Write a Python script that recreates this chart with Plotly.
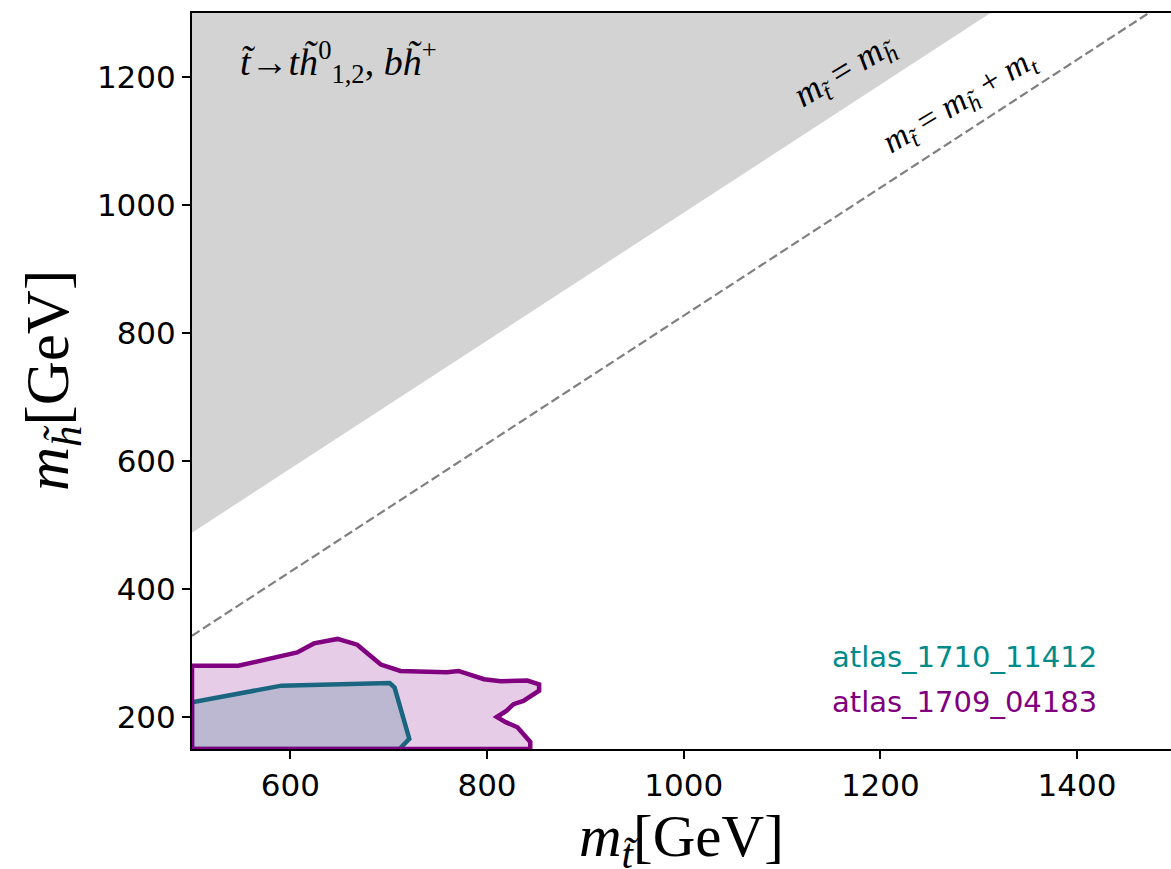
import plotly.graph_objects as go

# ---- data ----
x_range = [500, 1495.6]
y_range = [150, 1300]

# kinematic boundary lines  m_h = m_t - offset
mt_line = [500, 1500]
gray_offset = 12      # shaded region boundary (m_t = m_h)
top_mass = 173        # dashed line (m_t = m_h + m_t)

# ATLAS 1709_04183 excluded contour (purple)
p_mt = [500, 547, 607, 624, 648, 668, 681, 692, 712, 759, 771, 797, 814, 841, 853,
        853, 837, 827, 820, 810, 819, 831, 844, 844, 500, 500]
p_mh = [280, 280, 301, 315, 322, 313, 296, 282, 272, 270, 272, 259, 256, 257, 251,
        241, 225, 220, 210, 200, 192, 184, 161, 150, 150, 280]

# ATLAS 1710_11412 excluded contour (teal)
t_mt = [500, 591, 701, 706, 721, 711, 500, 500]
t_mh = [223, 249, 253, 246, 166, 150, 150, 223]

legend_names = ["atlas_1710_11412", "atlas_1709_04183"]
legend_colors = ["#008b8b", "#800080"]

fig = go.Figure()

# gray forbidden region above m_h = m_t
g_lo = [m - gray_offset for m in mt_line]
fig.add_trace(go.Scatter(
    x=[mt_line[0], mt_line[1], mt_line[0], mt_line[0]],
    y=[g_lo[0], g_lo[1], 1500, g_lo[0]],
    fill="toself", fillcolor="#d3d3d3", mode="none", hoverinfo="skip", showlegend=False))

# dashed line m_t = m_h + m_top
fig.add_trace(go.Scatter(
    x=mt_line, y=[m - top_mass for m in mt_line], mode="lines",
    line=dict(color="#808080", width=2.2, dash="9px,4px"), showlegend=False))

# teal contour
fig.add_trace(go.Scatter(
    x=t_mt, y=t_mh, mode="lines", fill="toself",
    fillcolor="rgba(0,128,128,0.2)", line=dict(color="#008080", width=4.5),
    showlegend=False))
# purple contour
fig.add_trace(go.Scatter(
    x=p_mt, y=p_mh, mode="lines", fill="toself",
    fillcolor="rgba(128,0,128,0.2)", line=dict(color="#800080", width=4.5),
    showlegend=False))

serif = "Liberation Serif, DejaVu Serif, serif"
sans = "DejaVu Sans, sans-serif"

# pixel -> data helpers for placing text
def px2x(px):
    return 500 + (px - 192) / 0.9833

def py2y(py):
    return 400 + (589.3 - py) / 0.64

ann = []
for i, (nm, c) in enumerate(zip(legend_names, legend_colors)):
    ann.append(dict(x=px2x(1099), y=py2y([657, 702][i]), xref="x", yref="y", text=nm,
                    showarrow=False, xanchor="right", yanchor="middle",
                    font=dict(family=sans, size=29, color=c)))

ann.append(dict(x=px2x(238), y=py2y(62), xref="x", yref="y", xanchor="left", yanchor="middle",
                text="<i>t̃</i>→<i>th̃</i><sup>0</sup><sub>1,2</sub>, <i>bh̃</i><sup>+</sup>",
                showarrow=False, font=dict(family=serif, size=38, color="black")))
ann.append(dict(x=px2x(845), y=py2y(72), xref="x", yref="y", textangle=-31,
                text="<i>m</i><sub><i>t̃</i></sub> = <i>m</i><sub><i>h̃</i></sub>",
                showarrow=False, font=dict(family=serif, size=36, color="black")))
ann.append(dict(x=px2x(960), y=py2y(102), xref="x", yref="y", textangle=-31,
                text="<i>m</i><sub><i>t̃</i></sub> = <i>m</i><sub><i>h̃</i></sub> + <i>m</i><sub><i>t</i></sub>",
                showarrow=False, font=dict(family=serif, size=34, color="black")))
# axis titles
ann.append(dict(x=0.5, y=0, xref="paper", yref="paper", yshift=-91, yanchor="middle",
                text="<i>m</i><sub><i>t̃</i></sub>[GeV]", showarrow=False,
                font=dict(family=serif, size=59, color="black")))
ann.append(dict(x=0, y=0.5, xref="paper", yref="paper", xshift=-140, xanchor="center",
                textangle=-90, text="<i>m</i><sub><i>h̃</i></sub>[GeV]", showarrow=False,
                font=dict(family=serif, size=61, color="black")))

fig.update_layout(
    width=1171, height=869,
    margin=dict(l=192, r=0, t=13, b=120),
    plot_bgcolor="white", paper_bgcolor="white",
    showlegend=False, annotations=ann,
)
fig.update_xaxes(range=x_range, tickvals=[600, 800, 1000, 1200, 1400],
                 showgrid=False, zeroline=False, showline=True, linecolor="black",
                 linewidth=2, mirror=True, ticks="outside", ticklen=8, tickwidth=2,
                 tickcolor="black", tickfont=dict(family=sans, size=31, color="black"))
fig.update_yaxes(range=y_range, tickvals=[200, 400, 600, 800, 1000, 1200],
                 showgrid=False, zeroline=False, showline=True, linecolor="black",
                 linewidth=2, ticks="outside", ticklen=8, tickwidth=2,
                 tickcolor="black", tickfont=dict(family=sans, size=31, color="black"))

post = ("document.documentElement.style.margin='0';document.body.style.margin='0';"
        "document.body.style.padding='0';document.body.style.overflow='hidden';"
        "var gd=document.getElementById('{plot_id}');"
        "Plotly.relayout(gd,{width:1171,height:869});")
fig.write_html("out.html", post_script=post, config={"displayModeBar": False})
